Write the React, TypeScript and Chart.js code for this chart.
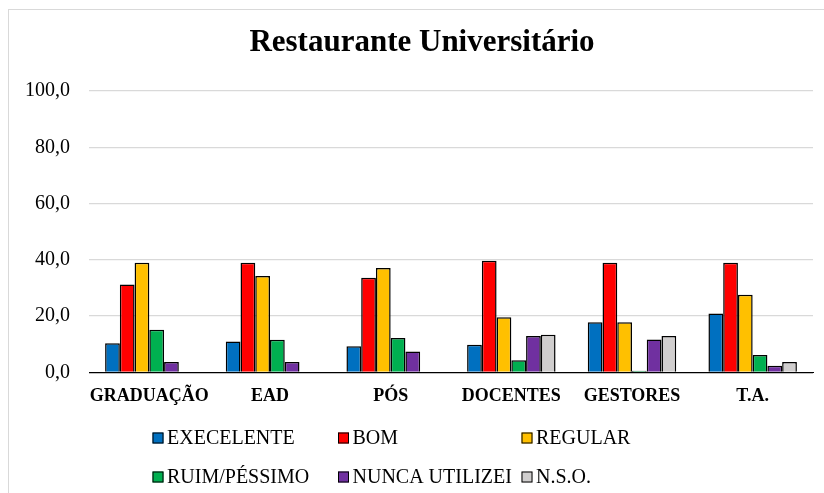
import React, { useEffect, useRef } from "react";
import { Chart, registerables } from "chart.js";

Chart.register(...registerables);

const categories = ["GRADUAÇÃO", "EAD", "PÓS", "DOCENTES", "GESTORES", "T.A."];
const seriesNames = ["EXECELENTE", "BOM", "REGULAR", "RUIM/PÉSSIMO", "NUNCA UTILIZEI", "N.S.O."];
const excelente = [10.4, 11.0, 9.3, 9.8, 17.8, 20.9];
const bom = [31.2, 39.0, 33.6, 39.7, 39.0, 39.0];
const regular = [39.0, 34.3, 37.1, 19.6, 17.8, 27.6];
const ruim = [15.2, 11.6, 12.2, 4.3, 0.6, 6.2];
const nunca = [3.7, 3.7, 7.4, 12.9, 11.7, 2.4];
const nso = [0, 0, 0, 13.4, 12.9, 3.7];
const yTicks = [0, 20, 40, 60, 80, 100];
const titleText = "Restaurante Universitário";

const seriesValues = [excelente, bom, regular, ruim, nunca, nso];
const seriesColors = ["#0070C0", "#FF0000", "#FFC000", "#00B050", "#7030A0", "#D0CECE"];

const titlePlugin = {
  id: "offsetTitle",
  afterDraw(chart: any) {
    const ctx = chart.ctx;
    ctx.save();
    ctx.font = "bold 31px 'Liberation Serif'";
    ctx.fillStyle = "#000";
    ctx.textAlign = "center";
    ctx.textBaseline = "alphabetic";
    ctx.fillText(titleText, 422, 51);
    ctx.restore();
  },
};

const legendPlugin = {
  id: "gridLegend",
  afterDraw(chart: any) {
    const ctx = chart.ctx;
    const cols = [152.5, 338, 521.5];
    const rows = [438, 477];
    const box = 11;
    ctx.save();
    ctx.font = "20px 'Liberation Serif'";
    ctx.textBaseline = "middle";
    ctx.textAlign = "left";
    chart.data.datasets.forEach((ds: any, i: number) => {
      const x = cols[i % 3];
      const y = rows[Math.floor(i / 3)];
      ctx.fillStyle = ds.backgroundColor;
      ctx.fillRect(x, y - box / 2, box, box);
      ctx.strokeStyle = "#000";
      ctx.lineWidth = 1;
      ctx.strokeRect(x + 0.5, y - box / 2 + 0.5, box - 1, box - 1);
      ctx.fillStyle = "#000";
      ctx.fillText(ds.label, x + 14.5, y + 1);
    });
    ctx.restore();
  },
};

export default function App() {
  const ref = useRef<HTMLCanvasElement | null>(null);
  useEffect(() => {
    document.body.style.margin = "0";
    if (!ref.current) return;
    const chart = new Chart(ref.current, {
      type: "bar",
      data: {
        labels: categories,
        datasets: seriesNames.map((name, i) => ({
          label: name,
          data: seriesValues[i],
          backgroundColor: seriesColors[i],
          borderColor: "#000",
          borderWidth: 1.5,
          categoryPercentage: 0.733,
          barPercentage: 1,
        })),
      },
      options: {
        responsive: false,
        animation: false,
        layout: { padding: { left: 6, right: 31, top: 91, bottom: 73 } },
        plugins: {
          legend: { display: false },
          tooltip: { enabled: false },
          title: { display: false },
        },
        scales: {
          x: {
            grid: { display: false, drawTicks: false },
            border: { display: true, color: "#000", width: 1 },
            ticks: {
              color: "#000",
              padding: 13,
              font: { family: "'Liberation Serif'", size: 18, weight: "bold" },
              maxRotation: 0,
              autoSkip: false,
            },
          },
          y: {
            min: 0,
            max: 100,
            afterBuildTicks: (axis: any) => {
              axis.ticks = yTicks.map((v) => ({ value: v }));
            },
            grid: {
              drawTicks: false,
              color: (c: any) => (c.tick && c.tick.value === 0 ? "#000" : "#D9D9D9"),
              lineWidth: 1.3,
            },
            border: { display: false },
            ticks: {
              color: "#000",
              padding: 19,
              font: { family: "'Liberation Serif'", size: 20 },
              callback: (v: any) => Number(v).toFixed(1).replace(".", ","),
            },
          },
        },
      },
      plugins: [titlePlugin, legendPlugin],
    });
    return () => chart.destroy();
  }, []);
  return (
    <div style={{ position: "relative", width: 824, height: 493, overflow: "hidden", background: "#fff" }}>
      <div
        style={{
          position: "absolute",
          left: 8,
          top: 9,
          width: 900,
          height: 600,
          border: "1px solid #D9D9D9",
          background: "#fff",
        }}
      />
      <canvas ref={ref} width={844} height={493} style={{ position: "absolute", left: 0, top: 0 }} />
    </div>
  );
}
